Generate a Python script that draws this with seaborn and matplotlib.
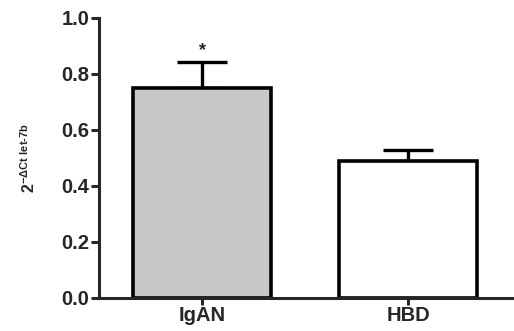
import numpy as np
import matplotlib
matplotlib.use('Agg')
import matplotlib.pyplot as plt
import seaborn as sns

groups = ['IgAN', 'HBD']
means = [0.75, 0.49]
sems = [0.094, 0.04]
colors = ['#c8c8c8', '#ffffff']

sns.set_style('ticks')
plt.rcParams['font.family'] = ['Liberation Sans', 'DejaVu Sans']
plt.rcParams['mathtext.fontset'] = 'custom'
plt.rcParams['mathtext.rm'] = 'Liberation Sans:bold'
plt.rcParams['mathtext.bf'] = 'Liberation Sans:bold'
plt.rcParams['mathtext.it'] = 'Liberation Sans:bold'

fig = plt.figure(figsize=(5.14, 3.31), dpi=100)
ax = fig.add_axes([0.193, 0.0997, 0.81, 0.846])

sns.barplot(x=groups, y=means, hue=groups, palette=colors, legend=False,
            width=0.67, edgecolor='black', linewidth=2.6, ax=ax, zorder=2)
ax.errorbar(x=np.arange(len(groups)), y=means, yerr=[np.zeros(len(sems)), sems],
            fmt='none', ecolor='black', elinewidth=2.4, capsize=18, capthick=2.4, zorder=1)
ax.text(0, means[0] + sems[0] + 0.04, '*', ha='center', va='center',
        fontsize=13, fontweight='bold')

ax.set_ylim(0, 1.0)
ax.set_xlim(-0.5, 1.52)
ax.set_yticks([0.0, 0.2, 0.4, 0.6, 0.8, 1.0])
ax.set_yticklabels(['0.0', '0.2', '0.4', '0.6', '0.8', '1.0'])
for lab in ax.get_yticklabels() + ax.get_xticklabels():
    lab.set_fontweight('bold')
    lab.set_fontsize(14.5)
ax.tick_params(axis='y', length=6, width=2.2, pad=1)
ax.tick_params(axis='x', length=5, width=2.2, pad=1)
ax.set_xlabel('')
ax.set_ylabel(r'$2^{-\Delta Ct\ let\text{-}7b}$', fontsize=11.5, labelpad=17)

sns.despine(ax=ax, right=True, top=True)
for s in ['left', 'bottom']:
    ax.spines[s].set_linewidth(2.2)

fig.savefig('out.png', dpi=100)
